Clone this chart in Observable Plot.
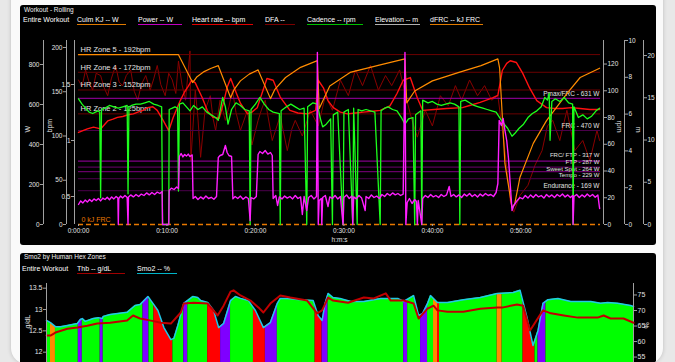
<!DOCTYPE html>
<html><head><meta charset="utf-8">
<script src="https://cdn.jsdelivr.net/npm/d3@7"></script>
<script src="https://cdn.jsdelivr.net/npm/@observablehq/plot@0.6"></script>
<style>
html,body{margin:0;padding:0;}
body{width:675px;height:362px;overflow:hidden;background:#e8e8e8;font-family:"Liberation Sans",Arial,Helvetica,sans-serif;position:relative;}
#card{position:absolute;left:11px;top:-20px;width:652px;height:384px;background:#fafafa;border-radius:16px;box-shadow:0 0 4px rgba(0,0,0,0.18);overflow:hidden;}
.panel{position:absolute;background:#000;border-radius:3px;overflow:hidden;color:#fff;}
#topPanel{left:9px;top:25px;width:636px;height:240px;}
#botPanel{left:9px;top:273px;width:636px;height:130px;}
.title{position:absolute;font-size:6.5px;line-height:8px;color:#f0f0f0;white-space:nowrap;}
.leg{position:absolute;font-size:7px;line-height:8px;color:#fff;white-space:nowrap;}
.item{position:absolute;font-size:7px;line-height:8px;height:8px;color:#fff;white-space:nowrap;border-bottom:1.5px solid;}
</style></head><body>
<div id="card">
  <div id="topPanel" class="panel">
    <div class="title" style="left:4px;top:1px">Workout - Rolling</div>
    <div class="leg" style="left:3px;top:11px">Entire Workout</div>
    <span class="item" style="left:57px;top:11px;width:49px;border-color:#e07a00">Culm KJ -- W</span>
    <span class="item" style="left:118px;top:11px;width:44px;border-color:#c000c0">Power -- W</span>
    <span class="item" style="left:172px;top:11px;width:61px;border-color:#e00000">Heart rate -- bpm</span>
    <span class="item" style="left:245px;top:11px;width:30px;border-color:#7a0000">DFA --</span>
    <span class="item" style="left:287px;top:11px;width:56px;border-color:#00c000">Cadence -- rpm</span>
    <span class="item" style="left:355px;top:11px;width:45px;border-color:#b0b0b0">Elevation -- m</span>
    <span class="item" style="left:410px;top:11px;width:53px;border-color:#e07a00">dFRC -- kJ FRC</span>
  </div>
  <div id="botPanel" class="panel">
    <div class="title" style="left:4px;top:0px">Smo2 by Human Hex Zones</div>
    <div class="leg" style="left:2px;top:12px">Entire Workout</div>
    <span class="item" style="left:57px;top:12px;width:48px;border-color:#a00000">Thb -- g/dL</span>
    <span class="item" style="left:117px;top:12px;width:40px;border-color:#00b4c8">Smo2 -- %</span>
  </div>
</div>
<script>
// ---------- DATA ----------
const xDomain = [0, 59];           // minutes
const xTicks = [0, 10, 20, 30, 40, 50];

const wTicks = [0, 200, 400, 600, 800];
const bpmTicks = [0, 50, 100, 150, 200];
const dfaTicks = [0.5, 1, 1.5];
const rpmTicks = [0, 20, 40, 60, 80, 100, 120];
const elevTicks = [0, 2, 4, 6, 8, 10];
const kjTicks = [0, 5, 10, 15, 20];

const hrZoneBpm = [192, 172, 152, 125];
const hrZoneLabels = ["HR Zone 5 - 192bpm", "HR Zone 4 - 172bpm", "HR Zone 3 - 152bpm", "HR Zone 2 - 125bpm"];
const powerZoneW = [631, 470, 317, 287, 264, 229, 169];
const powerZoneLabels = ["Pmax/FRC - 631 W", "FRC - 470 W", "FRC/ FTP - 317 W", "FTP - 287 W", "Sweet Spot - 264 W", "Tempo - 229 W", "Endurance - 169 W"];
const frcFloorKj = [0];
const frcFloorLabel = ["0 kJ FRC"];

// [minute, watts]
const power = [[0,100],[0.25,118],[0.5,108],[0.75,122],[1,112],[1.25,125],[1.5,115],[1.75,128],[2,120],[2.25,130],[2.5,118],[2.75,132],[3,125],[3.25,136],[3.5,124],[3.75,138],[4,128],[4.25,140],[4.45,132],[4.5,0],[4.55,130],[4.75,142],[5,133],[5.25,145],[5.5,135],[5.6,0],[5.65,138],[5.9,148],[6.2,138],[6.5,150],[6.8,140],[7.1,152],[7.4,145],[7.7,158],[8,148],[8.3,160],[8.6,150],[8.9,162],[9.2,155],[9.45,165],[9.5,0],[10.2,0],[10.25,170],[10.5,182],[10.8,175],[11.1,188],[11.3,180],
[11.4,340],[11.6,355],[11.8,338],[12,350],[12.2,342],[12.4,352],[12.6,340],[12.85,348],
[12.95,130],[13.2,140],[13.5,125],[13.8,138],[14.1,128],[14.4,142],[14.7,130],[15,136],[15.3,126],[15.6,140],
[15.8,335],[16.0,345],[16.3,350],[16.6,395],[16.8,360],[17.0,345],[17.3,340],
[17.45,128],[17.7,140],[18,130],[18.3,142],[18.6,126],[18.9,138],[19.2,130],[19.4,20],[19.5,135],[19.8,128],[20.1,140],
[20.3,350],[20.5,365],[20.8,355],[21.1,370],[21.4,352],[21.7,360],[21.9,345],
[22.0,130],[22.3,145],[22.5,95],[22.7,138],[23,128],[23.3,142],[23.6,132],[23.9,140],[24.2,128],[24.5,145],[24.8,130],[25.1,138],[25.3,50],[25.5,140],[25.8,70],[26,135],[26.3,145],[26.6,128],[26.9,140],
[27.0,860],[27.1,0],[27.2,120],[27.45,130],[27.5,0],[27.6,135],[27.9,145],[28.2,90],[28.4,138],[28.7,130],[29,145],[29.3,128],[29.6,140],[29.9,0],[30,135],[30.3,148],[30.6,130],[30.9,142],[31,0],[31.1,138],[31.4,128],[31.7,145],[32,132],[32.4,70],[32.5,140],[32.8,130],[33.1,148],[33.4,135],[33.7,142],[34,130],[34.3,150],[34.6,140],[34.9,155],[35.2,145],[35.5,158],[35.8,148],[36.1,155],[36.4,145],[36.7,152],
[36.9,860],[37.0,0],[37.15,110],[37.4,130],[37.7,105],[38,125],[38.2,115],[38.3,0],[38.4,120],[38.8,0],[38.9,130],[39.2,145],[39.5,135],[39.8,150],[40.1,138],[40.4,145],[40.7,135],[41,150],[41.3,140],[41.6,148],[41.9,190],[42.1,140],[42.4,150],[42.7,138],[43,148],[43.3,135],[43.6,152],[43.9,142],[44.2,155],[44.5,140],[44.8,150],[45.1,138],[45.4,152],[45.7,142],[46,155],[46.3,145],[46.6,150],[46.9,140],[47.2,160],[47.4,205],
[47.55,520],[47.8,495],[48.0,530],[48.2,470],[48.4,420],[48.6,330],[48.8,200],[49.0,70],[49.2,95],[49.5,115],[49.9,135],[50.2,128],[50.5,145],[50.8,132],[51.1,148],[51.4,135],[51.7,150],[52,138],[52.3,145],[52.6,132],[52.9,150],[53.2,138],[53.5,148],[53.8,135],[54.1,150],[54.4,140],[54.7,152],[55,138],[55.3,148],[55.6,135],[55.85,145],[55.9,0],[56,140],[56.3,150],[56.6,135],[56.9,148],[57.2,138],[57.5,152],[57.8,140],[58.1,150],[58.4,136],[58.7,148],[58.9,80]];

// [minute, bpm]
const heartRate = [[0,104],[0.5,106],[1.0,108],[1.7,110],[2.5,108],[3.3,117],[3.9,119],[4.4,121],[5.0,122],[5.6,124],[6.2,125],[6.7,127],[7.3,129],[7.8,132],[8.4,133],[8.9,129],[9.6,117],[10.2,106],[10.7,121],[11.5,140],[12.0,150],[12.4,156],[12.8,163],[13.2,160],[14.0,143],[14.6,128],[15.2,121],[15.9,120],[16.4,138],[16.8,155],[17.2,165],[17.7,152],[18.3,137],[19.1,125],[19.6,127],[20.2,132],[20.8,150],[21.3,165],[22.0,163],[22.8,144],[23.9,129],[24.8,126],[25.9,125],[26.8,129],[27.1,163],[27.7,154],[28.2,140],[28.8,132],[29.6,127],[30.4,125],[31.3,126],[32.2,127],[33.2,128],[34.1,129],[35.2,134],[36.0,148],[36.7,163],[37.5,166],[38.3,143],[38.9,129],[40.2,130],[41.6,131],[43.4,132],[44.4,135],[45.4,138],[46.8,143],[47.4,146],[47.9,174],[48.4,182],[48.8,185],[49.5,183],[50.2,171],[51.0,154],[51.8,140],[52.9,132],[53.8,131],[54.7,131],[55.7,132],[56.7,131],[57.8,130],[58.9,130]];

// [minute, DFA alpha1]
const dfa = [[0,1.54],[0.4,1.48],[0.8,1.63],[1.2,1.52],[1.6,1.45],[2.0,1.6],[2.5,1.58],[2.9,1.47],[3.3,1.40],[3.7,1.55],[4.2,1.67],[4.6,1.52],[5.0,1.49],[5.4,1.58],[5.9,1.63],[6.3,1.44],[6.7,1.36],[7.1,1.5],[7.6,1.58],[8.1,1.45],[8.5,1.55],[8.9,1.67],[9.3,1.5],[9.8,1.40],[10.2,1.6],[10.6,1.54],[11.0,1.42],[11.3,1.71],[11.7,1.5],[12.1,1.36],[12.6,1.80],[12.7,0.82],[13.2,1.45],[13.5,1.2],[13.8,0.85],[14.3,1.27],[14.9,1.40],[15.2,1.2],[15.5,1.09],[16.0,1.36],[16.6,1.18],[17.0,1.3],[17.4,1.45],[17.8,1.25],[18.3,1.09],[19.1,1.27],[19.6,0.96],[20.3,1.18],[20.7,1.28],[21.1,1.36],[21.9,1.00],[22.8,1.22],[23.6,0.91],[24.1,1.1],[24.5,1.18],[25.3,1.04],[26.2,1.27],[27.1,1.13],[27.9,1.40],[28.7,1.27],[29.6,1.54],[30.5,1.40],[31.3,1.63],[32.1,1.49],[33.0,1.67],[33.9,1.45],[34.7,1.58],[35.4,1.49],[36.3,1.63],[37.1,1.36],[37.7,1.18],[38.3,1.03],[39.2,1.27],[40.0,1.13],[40.9,1.40],[41.8,1.31],[42.6,1.49],[43.3,1.36],[44.2,1.54],[45.1,1.40],[45.9,1.49],[46.7,1.36],[47.4,1.40],[48.2,0.91],[48.8,0.46],[49.2,0.36],[49.9,0.51],[50.8,0.60],[51.6,0.78],[52.4,0.91],[53.0,1.13],[53.6,1.18],[54.4,1.00],[55.2,1.27],[56.1,0.91],[57.0,1.00],[57.8,0.82],[58.6,1.09],[58.9,1.00]];

// [minute, rpm]
const cadence = [[0,94],[0.4,90],[0.8,87],[1.2,84],[1.6,83],[2.2,85],[2.4,84],[2.5,20],[2.6,86],[3,87],[3.5,89],[4,88],[4.5,87],[5,88],[5.5,89],[5.6,23],[5.7,88],[6,89],[6.5,90],[7,90],[7.5,91],[8,92],[8.5,90],[9,89],[9.4,88],[9.5,0],[10.2,0],[10.25,86],[10.6,87],[10.9,88],[11.2,87],[11.3,25],[11.4,90],[11.8,91],[12.2,88],[12.6,85],[13,89],[13.5,86],[14,88],[14.5,84],[15,82],[15.5,80],[15.8,78],[16.3,95],[16.6,88],[16.9,75],[17.3,86],[17.8,91],[18.3,89],[18.8,86],[19.3,85],[19.4,0],[19.5,86],[20,90],[20.5,95],[21,90],[21.5,86],[22,84],[22.7,83],[22.8,0],[22.9,85],[23.5,88],[24,90],[24.5,88],[25,86],[25.5,87],[25.8,0],[25.9,88],[26.5,91],[27,90],[27.3,80],[27.6,73],[28,75],[28.5,79],[28.7,0],[28.8,82],[29.3,84],[29.9,0],[30,84],[30.5,86],[31,0],[31.1,87],[31.5,0],[31.6,86],[32,85],[32.5,86],[33,85],[33.5,84],[34.1,0],[34.2,85],[34.6,87],[35,88],[35.5,86],[36,85],[36.5,80],[36.9,75],[37.3,79],[37.8,80],[38,0],[38.1,82],[38.7,85],[38.8,0],[38.9,93],[39.5,91],[40,92],[40.5,90],[41,89],[41.5,90],[42,91],[42.5,90],[43,88],[43.1,0],[43.2,92],[43.7,93],[44.2,91],[44.7,89],[45.2,88],[45.7,87],[46.2,86],[46.7,85],[47.2,84],[47.6,80],[48,76],[48.5,72],[49,66],[49.3,68],[49.8,72],[50.3,75],[50.8,80],[51.3,83],[51.8,85],[52.3,88],[52.7,95],[53.0,93],[53.2,98],[53.3,63],[53.5,92],[53.9,94],[54.4,92],[54.9,95],[55.4,91],[55.85,90],[55.9,0],[56,88],[56.5,80],[57,82],[57.5,79],[58,81],[58.5,85],[58.9,87]];

// [minute, kJ]
const dfrc = [[0,20.1],[11.3,20.1],[12.9,16.8],[13.4,17.5],[14.2,18.1],[15.0,18.5],[15.8,18.8],[17.2,15.0],[17.6,16.0],[18.3,17.0],[19.3,17.8],[20.3,18.3],[21.7,14.9],[22.2,16.0],[23.4,17.4],[25.1,18.6],[27.0,19.4],[27.2,13.7],[28.4,16.4],[30.7,18.0],[34.1,18.9],[36.9,19.6],[37.1,14.4],[38.0,15.8],[40.0,17.0],[43.0,18.0],[45.5,18.8],[47.4,19.6],[47.6,18.5],[48.2,7.2],[49.0,2.0],[49.3,2.4],[49.9,5.6],[51.4,9.6],[52.9,12.3],[55.2,15.5],[56.7,17.4],[58.9,18.5]];

// bottom panel
const thbTicks = [12, 12.5, 13, 13.5];
const smo2Ticks = [55, 60, 65, 70, 75];
// [minute, %]
const smo2 = [[0,66.8],[0.4,66.1],[0.9,64.8],[1.4,64.8],[2.1,65.2],[3.1,65.8],[3.4,67.1],[3.6,67.4],[3.9,66.5],[4.7,67.4],[5.2,67.7],[5.6,67.4],[5.7,68.1],[6.4,68.7],[8.1,69.4],[8.9,71.6],[9.4,71.9],[10.2,74.5],[10.7,72.3],[11.2,70.0],[11.8,64.5],[12.5,60.6],[12.8,61.0],[13.2,65.2],[13.8,72.3],[14.7,74.5],[15.2,74.2],[15.5,73.2],[16.2,72.6],[16.8,70.0],[17.3,64.5],[17.8,65.8],[18.5,73.2],[19.0,74.5],[19.5,73.9],[20.3,73.2],[21.0,70.0],[21.8,64.5],[22.5,66.1],[23.2,72.3],[23.5,73.9],[24.2,73.9],[25.5,73.5],[26.8,73.2],[27.3,68.4],[27.7,66.8],[28.0,72.3],[28.3,75.5],[28.8,74.2],[29.5,73.9],[30.6,72.9],[31.9,72.9],[33.6,73.9],[35.3,73.9],[35.9,72.9],[36.9,74.8],[37.4,68.4],[37.8,69.0],[38.3,72.3],[38.6,74.8],[39.3,72.6],[40.3,72.6],[41.9,73.5],[43.6,74.2],[45.3,75.5],[46.9,75.8],[47.6,76.5],[48.3,67.7],[48.9,58.7],[49.4,63.5],[49.9,72.3],[50.4,73.5],[51.4,73.9],[52.7,72.9],[54.7,72.9],[55.7,72.3],[56.4,72.6],[57.4,72.3],[58.7,71.6],[59,71.3]];
// [minute, g/dL]
const thb = [[0,12.39],[0.4,12.39],[0.9,12.46],[2.1,12.55],[3.1,12.58],[4.1,12.62],[5.1,12.67],[6.4,12.69],[8.1,12.74],[8.7,12.86],[9.4,12.79],[10.5,12.74],[11.5,12.69],[12.5,12.67],[13.5,12.93],[13.8,13.14],[14.8,13.16],[16.2,13.14],[17.2,12.86],[17.8,13.09],[18.5,13.42],[18.8,13.45],[19.5,13.33],[20.5,13.21],[21.3,13.05],[21.8,12.93],[22.5,13.14],[23.5,13.33],[24.5,13.28],[26.2,13.21],[27.2,12.91],[27.7,12.98],[28.3,13.28],[28.8,13.21],[30.3,13.16],[31.9,13.28],[32.9,13.26],[34.1,13.38],[34.6,13.21],[35.9,13.21],[36.9,13.14],[37.4,12.79],[38.3,13.02],[38.9,13.09],[39.3,12.98],[40.3,12.95],[41.9,12.95],[43.6,13.02],[45.3,13.05],[45.9,13.05],[47.3,13.12],[47.9,13.09],[48.6,12.51],[49.9,12.98],[50.7,12.91],[52.0,12.86],[53.4,12.81],[55.4,12.81],[56.0,12.86],[56.7,12.79],[58.0,12.79],[59,12.69]];
// Human Hex zones: [start, end, zone]
const hexZones = [[0,0.4,"g"],[0.4,0.9,"o"],[0.9,3.2,"g"],[3.2,3.6,"p"],[3.6,5.4,"g"],[5.4,5.7,"p"],[5.7,9.7,"g"],[9.7,10.3,"p"],[10.3,10.8,"g"],[10.8,12.7,"r"],[12.7,13.8,"g"],[13.8,14.2,"p"],[14.2,16.2,"g"],[16.2,17.5,"r"],[17.5,18.5,"p"],[18.5,20.8,"g"],[20.8,22.0,"r"],[22.0,23.2,"p"],[23.2,27.0,"g"],[27.0,27.7,"r"],[27.7,28.3,"p"],[28.3,35.9,"g"],[35.9,36.3,"p"],[36.3,37.6,"g"],[37.6,38.3,"p"],[38.3,38.9,"g"],[38.9,39.3,"o"],[39.3,39.5,"r"],[39.5,45.3,"g"],[45.3,45.8,"o"],[45.8,47.9,"g"],[47.9,49.1,"r"],[49.1,49.4,"g"],[49.4,50.2,"p"],[50.2,59,"g"]];

// ---------- STYLE ----------
const FONT = "'Liberation Sans', Arial, Helvetica, sans-serif";
const TXT = "#e2e2e2", AXIS = "#a0a0a0";
const zoneFill = {g: "#00ff00", o: "#ff8a00", p: "#7f00ff", r: "#ff0000"};
const powerZoneColors = ["#a000a8", "#4a004a", "#a000a8", "#6e006e", "#800080", "#4a004a", "#4a004a"];
const powerZoneDy = [-4.5, -4.5, -6.2, -5.2, -3.0, -3.6, -4.5];
const powerZoneFont = [6.5, 6.5, 6, 6, 6, 6, 6.5];
const TOP = {w: 636, h: 240, l: 58, r: 56, t: 35, b: 21};
const BOT = {w: 636, h: 130, l: 26, r: 23, t: 30, b: 10};
const fmtTime = m => `0:${String(m).padStart(2, "0")}:00`;

const hrZones = hrZoneBpm.map((bpm, i) => ({bpm, label: hrZoneLabels[i]}));
const powerZones = powerZoneW.map((w, i) => ({w, label: powerZoneLabels[i], color: powerZoneColors[i], dy: powerZoneDy[i], fs: powerZoneFont[i]}));
const frcFloor = frcFloorKj.map((kj, i) => ({kj, label: frcFloorLabel[i]}));
const zones = hexZones.map(([start, end, zone]) => ({start, end, zone}));

function addLayer(parent, size, yDomain, marks, fontSize = "6.5px") {
  const svg = Plot.plot({
    width: size.w, height: size.h,
    marginLeft: size.l, marginRight: size.r, marginTop: size.t, marginBottom: size.b,
    x: {domain: xDomain, axis: null},
    y: {domain: yDomain, axis: null},
    style: {background: "transparent", color: TXT, fontFamily: FONT, fontSize,
            overflow: "visible", position: "absolute", left: "0px", top: "0px"},
    marks
  });
  parent.appendChild(svg);
}
function yAxis(ticks, anchor, dx, fmt) {
  const x0 = anchor === "left" ? xDomain[0] : xDomain[1];
  return [
    Plot.ruleX([x0], {dx, stroke: AXIS, strokeWidth: 1}),
    Plot.axisY(ticks, {anchor, dx, tickSize: 3, tickPadding: 1, label: null,
      stroke: AXIS, fill: TXT, tickFormat: fmt || (d => String(d))})
  ];
}
function axisTitle(text, anchor, dx, rotate) {
  return Plot.text([text], {text: d => d, frameAnchor: anchor, dx, rotate, fill: TXT, fontSize: 7});
}
const X = d => d[0], Y = d => d[1];

const topEl = document.getElementById("topPanel");
const botEl = document.getElementById("botPanel");

// DFA (behind)
addLayer(topEl, TOP, [0.25, 1.893], [
  ...yAxis(dfaTicks, "left", -4),
  Plot.line(dfa, {x: X, y: Y, stroke: "#8a0000", strokeWidth: 1})
]);
// Power zones + W axis
addLayer(topEl, TOP, [0, 920], [
  ...yAxis(wTicks, "left", -35),
  axisTitle("W", "left", -51, -90),
  Plot.ruleY(powerZones, {y: "w", stroke: "color", strokeWidth: 1}),
  ...powerZones.map(z => Plot.text([z], {y: "w", text: "label", frameAnchor: "right", textAnchor: "end", dx: -1, dy: z.dy, fill: TXT, fontSize: z.fs}))
]);
// HR
addLayer(topEl, TOP, [0, 207.9], [
  ...yAxis(bpmTicks, "left", -12),
  axisTitle("bpm", "left", -29, -90),
  Plot.ruleY(hrZones, {y: "bpm", stroke: "#6a0000", strokeWidth: 1}),
  Plot.text(hrZones, {y: "bpm", text: "label", frameAnchor: "left", textAnchor: "start", dx: 2, dy: -5, fill: TXT, fontSize: 7.5}),
  Plot.line(heartRate, {x: X, y: Y, stroke: "#ff1010", strokeWidth: 1.4})
]);
// dFRC
addLayer(topEl, TOP, [0, 21.78], [
  ...yAxis(kjTicks, "right", 43),
  Plot.ruleY(frcFloor, {y: "kj", stroke: "#e87800", strokeWidth: 1.5, strokeDasharray: "5,3"}),
  Plot.text(frcFloor, {y: "kj", text: "label", frameAnchor: "left", textAnchor: "start", dx: 3, dy: -5, fill: "#e87800", fontSize: 7}),
  Plot.line(dfrc, {x: X, y: Y, stroke: "#ff8c00", strokeWidth: 1.2})
]);
// Cadence
addLayer(topEl, TOP, [0, 137.6], [
  ...yAxis(rpmTicks, "right", 3),
  axisTitle("rpm", "right", 19, 90),
  Plot.line(cadence, {x: X, y: Y, stroke: "#1cff1c", strokeWidth: 1.3})
]);
// Power line (on top)
addLayer(topEl, TOP, [0, 920], [
  Plot.line(power, {x: X, y: Y, stroke: "#ff1eff", strokeWidth: 1.4})
]);
// Elevation axis + time axis
addLayer(topEl, TOP, [0, 10], [
  ...yAxis(elevTicks, "right", 24),
  axisTitle("m", "right", 38, 90),
  Plot.axisX(xTicks, {anchor: "bottom", tickSize: 2, tickPadding: 2, tickFormat: fmtTime, label: null, stroke: AXIS, fill: TXT}),
  Plot.text(["h:m:s"], {text: d => d, frameAnchor: "bottom", dy: 17, fill: TXT, fontSize: 6.5})
]);

// ---------- bottom ----------
const smoDomain = [49.7, 78.7];
addLayer(botEl, BOT, smoDomain, [
  Plot.rect(zones, {x1: "start", x2: "end", fill: d => zoneFill[d.zone]}),
  Plot.area(smo2, {x1: X, y1: Y, y2: () => smoDomain[1], fill: "#000"}),
  Plot.line(smo2, {x: X, y: Y, stroke: "#20c8e8", strokeWidth: 1.5}),
  ...yAxis(smo2Ticks, "right", 0),
  axisTitle("%", "right", 13, 90)
], "7px");
addLayer(botEl, BOT, [11.50, 13.61], [
  Plot.line(thb, {x: X, y: Y, stroke: "#c00000", strokeWidth: 2}),
  ...yAxis(thbTicks, "left", 0),
  axisTitle("g/dL", "left", -19, -90)
], "7px");
</script>
</body></html>
